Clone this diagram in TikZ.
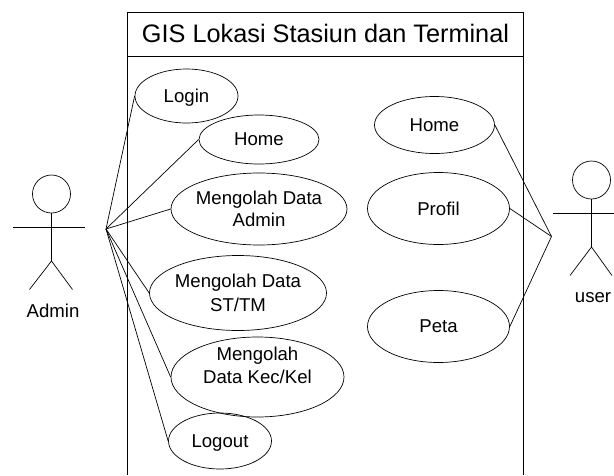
\documentclass[tikz,border=0pt]{standalone}
\usepackage{fontspec}
\setmainfont{Liberation Sans}
\tikzset{
  usecase/.style={draw,ellipse,inner sep=-12pt,align=center,font=\fontsize{18.6}{22}\selectfont},
  lbl/.style={font=\fontsize{18.6}{22}\selectfont},
  head/.style={draw,circle,inner sep=0pt,minimum size=38pt}
}
\usetikzlibrary{shapes.geometric}
\begin{document}
\begin{tikzpicture}[x=1pt,y=-1pt,line width=0.7pt]
\useasboundingbox (0,0) rectangle (614,475);
% system box
\path (127.5,12) coordinate (boxtl);
\path (523,12) coordinate (boxtr);
\path (127.5,475) coordinate (boxbl);
\path (523,475) coordinate (boxbr);
\path (127.5,56) coordinate (titlel);
\path (523,56) coordinate (titler);
\draw (boxbl) -- (boxtl) -- (boxtr) -- (boxbr);
\draw (titlel) -- (titler);
\path (325.5,33) node (title) [font=\fontsize{25.3}{30}\selectfont] {GIS Lokasi Stasiun dan Terminal};
% use cases
\path (186.5,96) node (login) [usecase,text depth=0pt,minimum width=103pt,minimum height=54pt] {Login};
\path (259,139.5) node (home) [usecase,minimum width=120pt,minimum height=49pt] {Home};
\path (259,209) node (admindata) [usecase,minimum width=176pt,minimum height=72pt] {Mengolah Data\\Admin};
\path (238,293) node (stdata) [usecase,minimum width=177pt,minimum height=75pt] {Mengolah Data\\[2pt]ST/TM};
\path (257.5,377) node (kecdata) [usecase,minimum width=173pt,minimum height=80pt] {Mengolah\\[1pt]Data Kec/Kel\\[2pt]};
\path (220,441) node (logout) [usecase,text depth=0pt,minimum width=103pt,minimum height=56pt] {Logout};
\path (434.5,125) node (homeb) [usecase,minimum width=120pt,minimum height=57pt] {Home};
\path (438.5,208.5) node (profil) [usecase,minimum width=142pt,minimum height=72pt] {Profil};
\path (438.5,326.5) node (peta) [usecase,minimum width=142pt,minimum height=72pt] {Peta};
% admin
\path (51.5,194) node (adminhead) [head] {};
\path (51.5,261) coordinate (adminhip);
\path (13,227) coordinate (adminl);
\path (85,227) coordinate (adminr);
\path (29.5,289.5) coordinate (adminfl);
\path (72.5,289.5) coordinate (adminfr);
\path (53,311) node (admin) [lbl] {Admin};
\draw (adminhead) -- (adminhip);
\draw (adminl) -- (adminr);
\draw (adminfl) -- (adminhip) -- (adminfr);
% user
\path (591.5,180) node (userhead) [head] {};
\path (591.5,247) coordinate (userhip);
\path (553,213) coordinate (userl);
\path (614,213) coordinate (userr);
\path (570,275.5) coordinate (userfl);
\path (612,275.5) coordinate (userfr);
\path (593,298) node (user) [lbl] {user};
\draw (userhead) -- (userhip);
\draw (userl) -- (userr);
\draw (userfl) -- (userhip) -- (userfr);
% connectors
\path (106,229) coordinate (adminhub);
\path (551.5,236.5) coordinate (userhub);
\draw (adminhub) -- (login.west);
\draw (adminhub) -- (home.west);
\draw (adminhub) -- (admindata.west);
\draw (adminhub) -- (stdata.west);
\draw (adminhub) -- (kecdata.west);
\draw (adminhub) -- (logout.west);
\draw (userhub) -- (homeb.east);
\draw (userhub) -- (profil.east);
\draw (userhub) -- (peta.east);
\end{tikzpicture}
\end{document}
